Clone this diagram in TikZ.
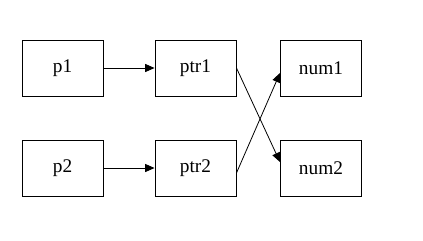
\documentclass[tikz,border=0pt]{standalone}
\usepackage{fontspec}
\setmainfont{Liberation Serif}
\usepackage{tikz}
\usetikzlibrary{arrows.meta, positioning}
\usepackage{xcolor}

\tikzset{
  box/.style={draw, rectangle, line width=0.7pt, minimum width=60.75pt, minimum height=42pt, font=\fontsize{14.5}{16}\selectfont},
  link/.style={draw, line width=0.6pt, -{Triangle[length=7pt,width=6pt]}}
}

\begin{document}
\begin{tikzpicture}[auto]
            \useasboundingbox (-46.875pt,-129pt) rectangle (270.375pt,51pt);
            \node[box] (p1) at (0,0) {p1};
            \node[box, right of=p1, node distance=99.75pt] (ptr1) {ptr1};
            \node[box, right of=ptr1, node distance=94.1pt] (num1) {num1};
            \node[box, below of=p1, node distance=75pt] (p2) {p2};
            \node[box, right of=p2, node distance=99.75pt] (ptr2) {ptr2};
            \node[box, right of=ptr2, node distance=94.1pt] (num2) {num2};
            
            \path [link] (p1) -- (ptr1);
            \path [link] (p2) -- (ptr2);
            \path [link] (ptr1.east) -- ([yshift=4.5pt]num2.west);
            \path [link] ([yshift=-3.75pt]ptr2.east) -- ([yshift=-3.75pt]num1.west);
        \end{tikzpicture}
\end{document}
